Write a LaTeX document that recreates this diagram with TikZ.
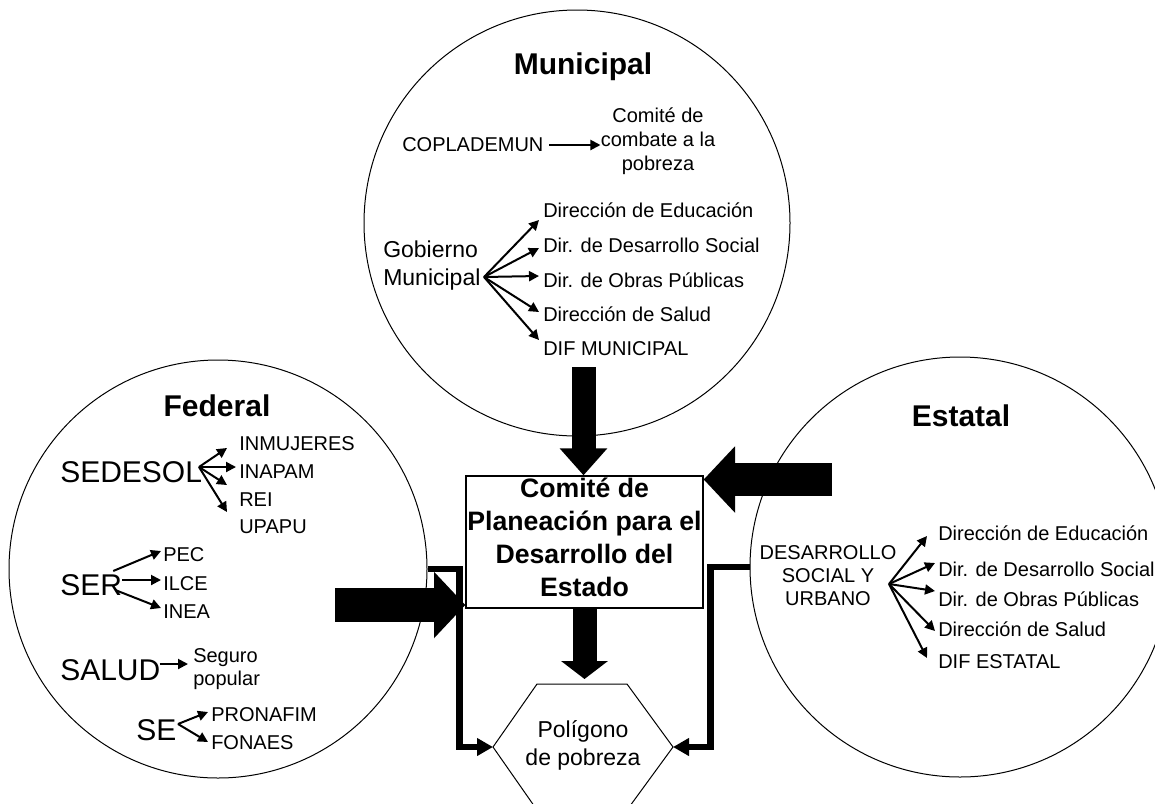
\documentclass[tikz,border=0pt]{standalone}
\usepackage{fontspec}
\setmainfont{Liberation Sans}
\usetikzlibrary{arrows.meta,calc}

\begin{document}
\begin{tikzpicture}[
      x=0.75pt, y=-0.75pt,
      area/.style={circle, draw, line width=0.75pt, inner sep=0pt},
      title/.style={font=\fontsize{22.5}{27}\selectfont\bfseries, inner sep=0pt},
      entity/.style={font=\fontsize{22.5}{27}\selectfont, anchor=west, inner sep=0pt},
      item/.style={font=\fontsize{15}{18}\selectfont, anchor=west, inner sep=0pt},
      note/.style={font=\fontsize{15}{17.25}\selectfont, align=center, inner sep=0pt},
      head/.style={font=\fontsize{17.25}{21}\selectfont, inner sep=0pt},
      box/.style={draw, line width=1pt, minimum width=177.75pt, minimum height=99pt, inner sep=0pt, align=center, font=\fontsize{20}{24.75}\selectfont\bfseries, text depth=7.5pt},
      link/.style={draw, line width=1.5pt, -{Triangle[length=7.5pt, width=7.5pt]}},
      vflow/.style={draw, line width=18pt, -{Triangle[length=20.25pt, width=34.5pt]}},
      hflow/.style={draw, line width=25pt, -{Triangle[length=23.5pt, width=48.5pt]}},
      elbow/.style={draw, line width=4.75pt, -{Triangle[length=12pt, width=12.75pt]}}
    ]
    \useasboundingbox (0,0) rectangle (1155,803);
    \clip (0,0) rectangle (1155,803);
    % Circles
    \node [area, minimum size=319.5pt] (municipal) at (577,223) {};
    \node [area, minimum size=313.5pt] (federal) at (218,569) {};
    \node [area, minimum size=315pt] (estatal) at (960,567) {};
    \node [title] (municipalT) at (583,67) {Municipal};
    \node [title] (federalT) at (217,406) {Federal};
    \node [title] (estatalT) at (961,416) {Estatal};

    % Municipal
    \node [item] (copla) at (402,145) {COPLADEMUN};
    \node [note, font=\fontsize{15}{18}\selectfont] (comite) at (658,141) {Comité de\\combate a la\\pobreza};
    \node [head, align=left, anchor=west] (gobierno) at (383,266) {Gobierno\\Municipal};
    \coordinate (gobB) at (484,277);
    \node [item] (me1) at (543,210) {Dirección de Educación};
    \node [item] (me2) at (543,245) {Dir. de Desarrollo Social};
    \node [item] (me3) at (543,280) {Dir. de Obras Públicas};
    \node [item] (me4) at (543,314) {Dirección de Salud};
    \node [item] (me5) at (543,349) {DIF MUNICIPAL};
    \draw [link, shorten <=4pt] (copla.east) -- (copla.east -| comite.west);
    \draw [link] (gobB) -- ($(me1.west)+(-4,10)$);
    \draw [link] (gobB) -- ($(me2.west)+(-4,3)$);
    \draw [link] (gobB) -- ($(me3.west)+(-4,-4)$);
    \draw [link] (gobB) -- ($(me4.west)+(-4,-2)$);
    \draw [link] (gobB) -- ($(me5.west)+(-4,-9)$);

    % Federal
    \node [entity] (sedesol) at (60,472) {SEDESOL};
    \coordinate (sedB) at (199,467);
    \node [item] (fe1) at (239,444) {INMUJERES};
    \node [item] (fe2) at (239,472) {INAPAM};
    \node [item] (fe3) at (239,500) {REI};
    \node [item] (fe4) at (239,527) {UPAPU};
    \draw [link] (sedB) -- ($(fe1.west)+(-12,4)$);
    \draw [link] (sedB) -- ($(fe2.west)+(-3,-5)$);
    \draw [link] (sedB) -- ($(fe3.west)+(-12,-15)$);
    \draw [link] (sedB) -- ($(fe4.west)+(-12,-15)$);
    \node [entity] (ser) at (60,585) {SER};
    \node [item] (pec) at (163,555) {PEC};
    \node [item] (ilce) at (163,584) {ILCE};
    \node [item] (inea) at (163,612) {INEA};
    \draw [link] ($(ser.east)+(-9,-14)$) -- ($(pec.west)+(-2,-4)$);
    \draw [link] ($(ser.east)+(0,-5)$) -- ($(ilce.west)+(-2,-4)$);
    \draw [link] ($(ser.east)+(-7,5)$) -- ($(inea.west)+(-2,-4)$);
    \node [entity] (salud) at (60,670) {SALUD};
    \node [note, align=left, anchor=west] (seguro) at (193,669) {Seguro\\popular};
    \draw [link] ($(salud.east)+(-1,-6)$) -- ($(seguro.west)+(-5,-5)$);
    \node [entity] (se) at (136,730) {SE};
    \coordinate (seB) at (178,724);
    \node [item] (pronafim) at (211,715) {PRONAFIM};
    \node [item] (fonaes) at (211,743) {FONAES};
    \draw [link] (seB) -- ($(pronafim.west)+(-3,-3)$);
    \draw [link] (seB) -- ($(fonaes.west)+(-3,-1)$);

    % Estatal
    \node [note] (dsu) at (828,576) {DESARROLLO\\SOCIAL Y\\URBANO};
    \coordinate (dsuB) at (889,584);
    \node [item] (ee1) at (938,533) {Dirección de Educación};
    \node [item] (ee2) at (938,569) {Dir. de Desarrollo Social};
    \node [item] (ee3) at (938,599) {Dir. de Obras Públicas};
    \node [item] (ee4) at (938,629) {Dirección de Salud};
    \node [item] (ee5) at (938,662) {DIF ESTATAL};
    \draw [link] (dsuB) -- ($(ee1.west)+(-11,3)$);
    \draw [link] (dsuB) -- ($(ee2.west)+(-3,-6)$);
    \draw [link] (dsuB) -- ($(ee3.west)+(-3,-8)$);
    \draw [link] (dsuB) -- ($(ee4.west)+(-3,2)$);
    \draw [link] (dsuB) -- ($(ee5.west)+(-11,-4)$);

    % Comite and poligono
    \node [box] (ceplade) at (584.5,542) {Comité de\\Planeación para el\\Desarrollo del\\Estado};
    \coordinate (polW) at (493,747);
    \coordinate (polE) at (673,747);
    \coordinate (polN) at (582,684);
    \draw [line width=0.75pt] (polW) -- (537,684) -- (627,684) -- (polE) -- (627,810) -- (537,810) -- cycle;
    \node [head, align=center] (poligono) at (583,745) {Polígono\\de pobreza};

    % Big arrows
    \coordinate (munOut) at (583.5,367);
    \coordinate (fedOut) at (335,605);
    \coordinate (estOut) at (832,479.5);
    \draw [vflow] (munOut) -- (munOut |- ceplade.north);
    \draw [vflow, -{Triangle[length=13.5pt, width=34.5pt]}] (ceplade.south) -- ($(ceplade.south |- polN)+(0,-5)$);
    \draw [hflow] (fedOut) -- (fedOut -| ceplade.west);
    \draw [hflow] (estOut) -- (estOut -| ceplade.east);
    \draw [elbow] (federal.east) -- ++(32,0) |- (polW);
    \draw [elbow] (estatal.west) -- ++(-39,0) |- (polE);
  \end{tikzpicture}
\end{document}
